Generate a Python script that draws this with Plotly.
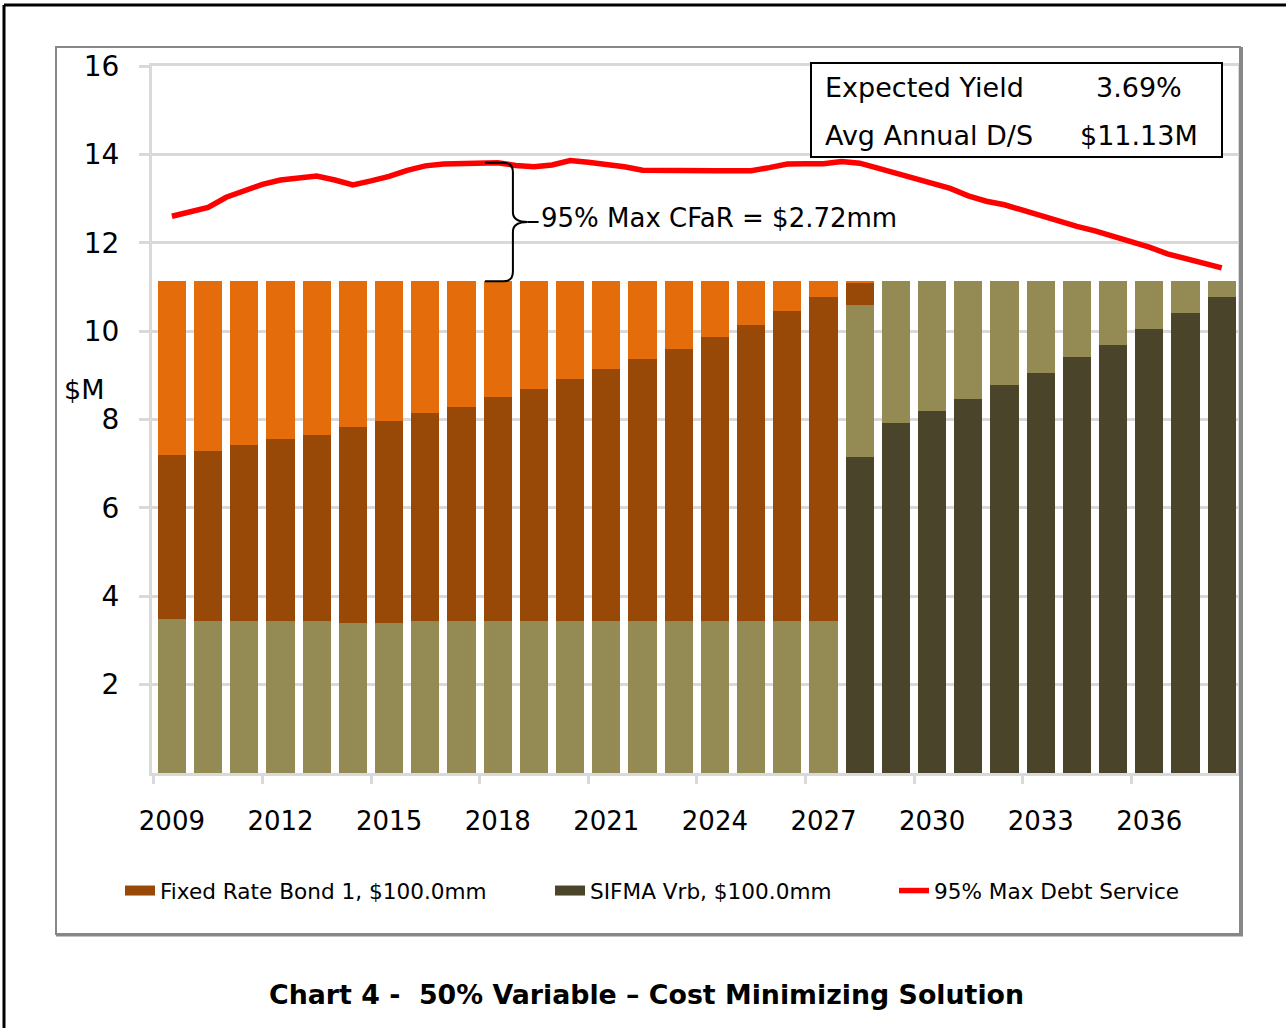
import plotly.graph_objects as go

# ---------------- data ----------------
years = [2009, 2010, 2011, 2012, 2013, 2014, 2015, 2016, 2017, 2018,
         2019, 2020, 2021, 2022, 2023, 2024, 2025, 2026, 2027, 2028,
         2029, 2030, 2031, 2032, 2033, 2034, 2035, 2036, 2037, 2038]

# SIFMA variable rate bond: principal (dark olive) and interest (khaki)
sifma_principal = [0, 0, 0, 0, 0, 0, 0, 0, 0, 0,
                   0, 0, 0, 0, 0, 0, 0, 0, 0, 7.15,
                   7.92, 8.19, 8.46, 8.78, 9.05, 9.41, 9.69, 10.05, 10.41, 10.77]
sifma_interest = [3.48, 3.44, 3.44, 3.44, 3.44, 3.39, 3.39, 3.44, 3.44, 3.44,
                  3.44, 3.44, 3.44, 3.44, 3.44, 3.44, 3.44, 3.44, 3.44, 3.44,
                  3.21, 2.94, 2.67, 2.35, 2.08, 1.72, 1.44, 1.08, 0.72, 0.36]
# Fixed rate bond 1: principal (brown) and interest (orange)
fixed_principal = [3.72, 3.85, 3.98, 4.12, 4.21, 4.44, 4.58, 4.71, 4.84, 5.07,
                   5.25, 5.48, 5.70, 5.93, 6.16, 6.43, 6.70, 7.02, 7.33, 0.50,
                   0, 0, 0, 0, 0, 0, 0, 0, 0, 0]
fixed_interest = [3.93, 3.84, 3.71, 3.57, 3.48, 3.30, 3.16, 2.98, 2.85, 2.62,
                  2.44, 2.21, 1.99, 1.76, 1.53, 1.26, 0.99, 0.67, 0.36, 0.04,
                  0, 0, 0, 0, 0, 0, 0, 0, 0, 0]

# 95% max debt service (semi-annual points)
ds_period = [2009.0, 2009.5, 2010.0, 2010.5, 2011.0, 2011.5, 2012.0, 2012.5,
             2013.0, 2013.5, 2014.0, 2014.5, 2015.0, 2015.5, 2016.0, 2016.5,
             2017.0, 2017.5, 2018.0, 2018.5, 2019.0, 2019.5, 2020.0, 2020.5,
             2021.0, 2021.5, 2022.0, 2022.5, 2023.0, 2023.5, 2024.0, 2024.5,
             2025.0, 2025.5, 2026.0, 2026.5, 2027.0, 2027.5, 2028.0, 2028.5,
             2029.0, 2029.5, 2030.0, 2030.5, 2031.0, 2031.5, 2032.0, 2032.5,
             2033.0, 2033.5, 2034.0, 2034.5, 2035.0, 2035.5, 2036.0, 2036.5,
             2037.0, 2037.5, 2038.0]
max_ds = [12.60, 12.71, 12.80, 13.03, 13.19, 13.32, 13.42, 13.48,
          13.51, 13.42, 13.31, 13.40, 13.50, 13.64, 13.74, 13.78,
          13.80, 13.81, 13.81, 13.75, 13.72, 13.76, 13.86, 13.82,
          13.78, 13.72, 13.64, 13.63, 13.63, 13.63, 13.63, 13.63,
          13.63, 13.70, 13.78, 13.79, 13.79, 13.84, 13.80, 13.69,
          13.58, 13.47, 13.37, 13.23, 13.06, 12.94, 12.86, 12.74,
          12.60, 12.47, 12.37, 12.27, 12.15, 12.02, 11.90, 11.75,
          11.64, 11.54, 11.43]

x_tick_labels = [2009, 2012, 2015, 2018, 2021, 2024, 2027, 2030, 2033, 2036]
x_boundaries = [2008.5, 2011.5, 2014.5, 2017.5, 2020.5, 2023.5, 2026.5,
                2029.5, 2032.5, 2035.5, 2038.5]
y_ticks = [2, 4, 6, 8, 10, 12, 14, 16]

cfar_year = 2018
stats_labels = ["Expected Yield", "Avg Annual D/S"]
stats_values = ["3.69%", "$11.13M"]

# ---------------- style ----------------
C_OLIVE = "#4A452A"
C_KHAKI = "#948A54"
C_BROWN = "#984807"
C_ORANGE = "#E46C0A"
C_RED = "#FF0000"
GRID = "#D9D9D9"
FONT = "DejaVu Sans"

fig = go.Figure()

bar_specs = [
    (sifma_principal, C_OLIVE, "SIFMA Vrb principal"),
    (sifma_interest, C_KHAKI, "SIFMA Vrb interest"),
    (fixed_principal, C_BROWN, "Fixed Rate Bond 1 principal"),
    (fixed_interest, C_ORANGE, "Fixed Rate Bond 1 interest"),
]
for vals, col, nm in bar_specs:
    fig.add_trace(go.Bar(x=years, y=vals, name=nm, marker=dict(color=col, line=dict(width=0)),
                         showlegend=False))

fig.add_trace(go.Scatter(x=ds_period, y=max_ds, mode="lines", name="95% Max Debt Service",
                         line=dict(color=C_RED, width=5.5), legend="legend3"))

# legend-only entries
fig.add_trace(go.Scatter(x=[None], y=[None], mode="lines", name="Fixed Rate Bond 1, $100.0mm",
                         line=dict(color=C_BROWN, width=12), legend="legend"))
fig.add_trace(go.Scatter(x=[None], y=[None], mode="lines", name="SIFMA Vrb, $100.0mm",
                         line=dict(color=C_OLIVE, width=12), legend="legend2"))

# plot area geometry (px) for paper conversions
L, R, T, B = 152, 1238, 66, 773
W, H = R - L, B - T
def px(x):
    return (x - L) / W
def py(y):
    return (B - y) / H

leg_common = dict(orientation="h", yanchor="middle", y=py(891), xanchor="left",
                  font=dict(family=FONT, size=21.6, color="black"), bgcolor="rgba(0,0,0,0)",
                  borderwidth=0)

fig.update_layout(
    width=1286, height=1028,
    margin=dict(l=L, r=1286 - R, t=T, b=1028 - B, autoexpand=False),
    paper_bgcolor="white", plot_bgcolor="white",
    barmode="stack", bargap=0.22,
    showlegend=True,
    legend=dict(x=px(120), **leg_common),
    legend2=dict(x=px(550), **leg_common),
    legend3=dict(x=px(894), **leg_common),
    font=dict(family=FONT, color="black"),
)

fig.update_xaxes(
    range=[2008.45, 2038.45], tickmode="array", tickvals=x_tick_labels,
    ticktext=[str(v) for v in x_tick_labels], ticks="", ticklen=0,
    tickfont=dict(family=FONT, size=26, color="black"), ticklabelstandoff=23,
    showgrid=False, zeroline=False,
    showline=True, linecolor=GRID, linewidth=3, mirror=True,
    minor=dict(tickmode="array", tickvals=x_boundaries, ticks="outside", ticklen=8,
               tickwidth=3, tickcolor=GRID, showgrid=False),
)
fig.update_yaxes(
    range=[0, 16], tickmode="array", tickvals=y_ticks,
    ticks="outside", ticklen=10, tickwidth=3, tickcolor=GRID,
    tickfont=dict(family=FONT, size=28, color="black"), ticklabelstandoff=14,
    showgrid=True, gridcolor=GRID, gridwidth=3, zeroline=False,
    showline=True, linecolor=GRID, linewidth=3, mirror=True,
)

shapes = []
# outer black frame (top and left edges)
shapes.append(dict(type="line", xref="paper", yref="paper", x0=px(4), x1=px(1290), y0=py(5), y1=py(5),
                   line=dict(color="black", width=3)))
shapes.append(dict(type="line", xref="paper", yref="paper", x0=px(4), x1=px(4), y0=py(5), y1=py(1032),
                   line=dict(color="black", width=3)))
# grey chart-area frame
shapes.append(dict(type="rect", xref="paper", yref="paper", x0=px(56), x1=px(1240), y0=py(934), y1=py(47),
                   line=dict(color="#878787", width=2), layer="below"))
shapes.append(dict(type="line", xref="paper", yref="paper", x0=px(1241), x1=px(1241), y0=py(936), y1=py(47),
                   line=dict(color="#878787", width=4)))
shapes.append(dict(type="line", xref="paper", yref="paper", x0=px(56), x1=px(1243), y0=py(935), y1=py(935),
                   line=dict(color="#878787", width=3)))
# stats box
shapes.append(dict(type="rect", xref="paper", yref="paper", x0=px(811), x1=px(1222), y0=py(157), y1=py(63),
                   line=dict(color="black", width=2), fillcolor="white"))

# CFaR brace between max debt service and average debt service at cfar_year
i_line = ds_period.index(float(cfar_year))
i_bar = years.index(cfar_year)
top = max_ds[i_line]
bot = sifma_principal[i_bar] + sifma_interest[i_bar] + fixed_principal[i_bar] + fixed_interest[i_bar]
mid = (top + bot) / 2
xl, xm, xt = cfar_year - 0.35, cfar_year + 0.42, cfar_year + 0.83
r = 0.22
path = (f"M {xl},{top} L {xm - 0.25},{top} Q {xm},{top} {xm},{top - r} "
        f"L {xm},{mid + r} Q {xm},{mid} {xt},{mid} "
        f"M {xt},{mid} Q {xm},{mid} {xm},{mid - r} "
        f"L {xm},{bot + r} Q {xm},{bot} {xm - 0.25},{bot} L {xl},{bot}")
shapes.append(dict(type="path", xref="x", yref="y", path=path, line=dict(color="black", width=2)))
shapes.append(dict(type="line", xref="x", yref="y", x0=xt, x1=xt + 0.3, y0=mid, y1=mid,
                   line=dict(color="black", width=2)))
fig.update_layout(shapes=shapes)

ann = []
ann.append(dict(x=xt + 0.3, y=mid + 0.08, xref="x", yref="y", xanchor="left", yanchor="middle",
                text="95% Max CFaR = $2.72mm", showarrow=False,
                font=dict(family=FONT, size=26, color="black")))
for lab, val, yy in zip(stats_labels, stats_values, [88, 135]):
    ann.append(dict(x=px(823), y=py(yy), xref="paper", yref="paper", xanchor="left", yanchor="middle",
                    text=lab, showarrow=False, font=dict(family=FONT, size=27, color="black")))
    ann.append(dict(x=px(1139), y=py(yy), xref="paper", yref="paper", xanchor="center", yanchor="middle",
                    text=val, showarrow=False, font=dict(family=FONT, size=27, color="black")))
ann.append(dict(x=px(106), y=py(390), xref="paper", yref="paper", xanchor="right", yanchor="middle",
                text="$M", showarrow=False, font=dict(family=FONT, size=27, color="black")))
ann.append(dict(x=px(646), y=py(994), xref="paper", yref="paper", xanchor="center", yanchor="middle",
                text="<b>Chart 4 -  50% Variable \u2013 Cost Minimizing Solution</b>", showarrow=False,
                font=dict(family=FONT, size=26.8, color="black")))
fig.update_layout(annotations=ann)

fig.write_html("out.html", config={"displayModeBar": False},
               post_script="document.body.style.margin='0px';")
